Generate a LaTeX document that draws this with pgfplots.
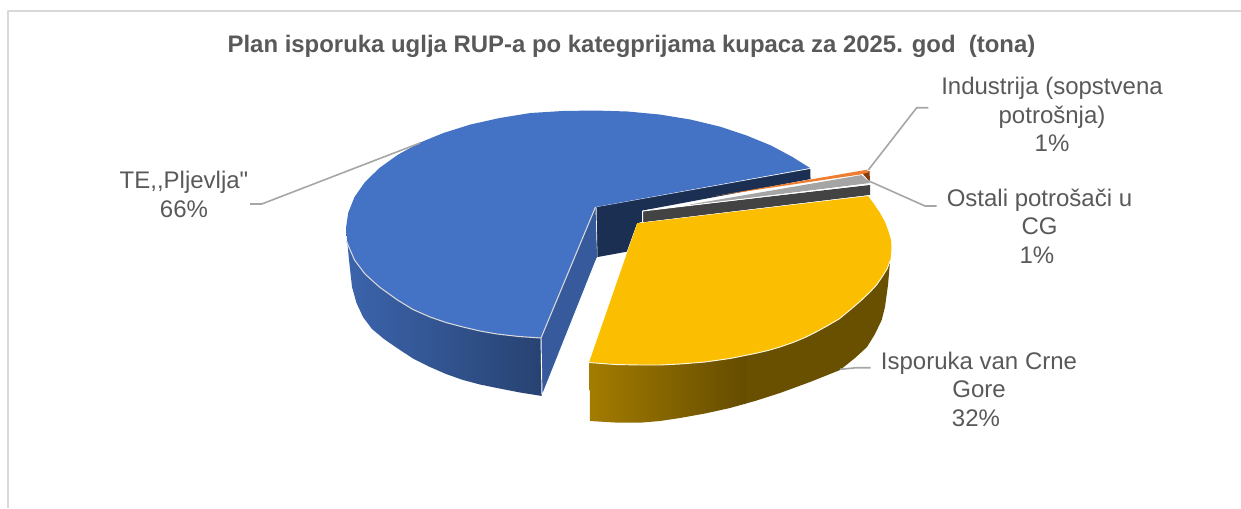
\documentclass[border=0pt]{standalone}
\usepackage{pgfplots}
\pgfplotsset{compat=1.18}
\usepackage{fontspec}
\setmainfont{Liberation Sans}[Ligatures=TeXOff]
\definecolor{lbl}{HTML}{595959}
\definecolor{leader}{HTML}{A6A6A6}
\definecolor{frame}{HTML}{D9D9D9}
\definecolor{blueTop}{HTML}{4472C4}
\definecolor{blueCut}{HTML}{365A9B}
\definecolor{blueBack}{HTML}{1A2F52}
\definecolor{yellowTop}{HTML}{FBBE00}
\definecolor{greyTop}{HTML}{A5A5A5}
\definecolor{greyFace}{HTML}{434343}
\definecolor{orangeTop}{HTML}{ED7D31}
\definecolor{orangeFace}{HTML}{843C0C}
\begin{document}
\begin{tikzpicture}
\useasboundingbox (0,0) rectangle (930.75pt,381pt);
\begin{axis}[
  at={(0,0)}, anchor=south west,
  hide axis, scale only axis, width=930.75pt, height=381pt,
  xmin=0, xmax=1241, ymin=0, ymax=508, y dir=reverse, clip=true,
  every axis plot/.append style={line join=round}]
% chart frame: left and top rules only
\addplot[frame, line width=1.5pt] coordinates {(8,508) (8,11) (1241,11)};
% TE Pljevlja: back face
\addplot[blueBack, fill=blueBack, draw=none] coordinates {(595.7,206.7) (810.7,168.3) (811,179) (642.6,210.5) (642.6,221.7) (637,223.3) (626.7,251.7) (596,257.3)};
\addplot[white, line width=0.7pt] coordinates {(595.7,206.7) (810.7,168.3) (811,179)};
\addplot[white, line width=0.7pt] coordinates {(596,207) (597,258)};
% TE Pljevlja: rim, shaded
\addplot[draw=none, left color=blueTop!88!black, middle color=blueTop!72!black, right color=blueTop!58!black] coordinates {(346,228) (349,260) (352,287) (356.5,303) (363,317) (372,329) (384,339) (397,348) (413,358.5) (430,367) (446,374) (463,380) (480,384.5) (497,388) (520,392.5) (542,396) (541,338)};
\addplot[blueCut, fill=blueCut, draw=none] coordinates {(541,338) (595.5,207) (597,258) (542,396)};
\addplot[white, line width=0.7pt] coordinates {(541,338) (542,396) (597,258)};
% TE Pljevlja: top surface
\addplot[blueTop, fill=blueTop, draw=none] coordinates {(595.5,207) (810,168) (792.5,157) (771,145.5) (746.6,135.5) (719.5,126.5) (690.3,119.5) (659.5,114.5) (627.6,111.5) (595,110.5) (562.4,111) (530.5,113) (499.7,118) (470.5,124.5) (443.4,133) (419,143) (397.5,155) (379.4,168) (365,182) (354.5,197) (348.2,212.8) (346,228) (348,245) (354.5,260) (365,274) (379.4,287) (397.5,300) (413,309.5) (430,317) (446,322.5) (463,327) (480,331) (497,334) (519,336.5) (541,338)};
\addplot[white!85!black, line width=0.8pt] coordinates {(346.5,241) (348,245) (354.5,260) (365,274) (379.4,287) (397.5,300) (413,309.5) (430,317) (446,322.5) (463,327) (480,331) (497,334) (519,336.5) (541,338) (595.5,207)};
% Industrija: sliver
\addplot[orangeFace, fill=orangeFace, draw=none] coordinates {(862,173) (869.5,171) (870,182)};
\addplot[orangeTop, fill=orangeTop, draw=none] coordinates {(715,196) (867,169.7) (868.5,172.5) (860,174.5)};
% Ostali: sliver
\addplot[greyFace, fill=greyFace, draw=none] coordinates {(642.7,211) (870,185) (870,195) (642.7,222.3)};
\addplot[greyTop, fill=greyTop, draw=none] coordinates {(690,204.5) (861.7,175) (870,183) (690,205.5)};
\addplot[white, line width=0.7pt] coordinates {(642.7,222.3) (642.7,211) (870,184)};
\addplot[white, line width=0.6pt] coordinates {(642.7,222.8) (870,195.5)};
% Isporuka van Crne Gore: rim, two shaded parts
\addplot[draw=none, fill=yellowTop!42!black] coordinates {(744,300) (890,261.7) (888,285) (885,306.7) (881.7,320) (875,334) (867,347) (855,358) (840,370) (810,382) (780,393) (755,401) (744,404)};
\addplot[draw=none, left color=yellowTop!65!black, right color=yellowTop!40!black] coordinates {(589.5,362.5) (746,356) (746,403.5) (730,408) (705,413.5) (680,418) (660,421) (640,422.7) (615,422.5) (590,421)};
% Isporuka van Crne Gore: top surface
\addplot[yellowTop, fill=yellowTop, draw=none] coordinates {(637.3,223.3) (868,196) (874,204) (880,213) (885,222) (888,230) (891,240) (891.5,248) (890.5,260) (887,269) (882,277) (876.5,285) (870,292) (860.5,301) (850,310) (839,319) (827,326) (816,332) (805,337.5) (793,342.5) (780,347) (768,350.5) (755,353.5) (730,358.5) (705,362) (680,364) (660,365) (640,365) (615,364.5) (589,362.5)};
\addplot[white!90!yellowTop, line width=0.7pt] coordinates {(589,362.5) (615,364.5) (640,365) (660,365) (680,364) (705,362) (730,358.5) (755,353.5) (768,350.5) (780,347) (793,342.5) (805,337.5) (816,332) (827,326) (839,319) (850,310) (860.5,301) (870,292) (876.5,285) (882,277) (887,269) (890.5,260)};
% leader lines
\addplot[leader, line width=1.2pt] coordinates {(250,204) (261.7,204) (420,143)};
\addplot[leader, line width=1.2pt] coordinates {(868.3,170) (916.7,107.7) (928.3,107.7)};
\addplot[leader, line width=1.2pt] coordinates {(866.7,180) (925,206) (936.7,206)};
\addplot[leader, line width=1.2pt] coordinates {(840,369.3) (856.7,367.7) (870.7,367.7)};
% title and data labels
\node[text=lbl, font=\fontsize{17.94pt}{21pt}\selectfont\bfseries, anchor=center] at (axis cs:631.5,46) {Plan isporuka uglja RUP-a po kategprijama kupaca za 2025. god\ \ (tona)};
\node[text=lbl, font=\fontsize{18pt}{21.4pt}\selectfont, align=center, anchor=center] at (axis cs:184,194.5) {TE,,Pljevlja"\\66\%};
\node[text=lbl, font=\fontsize{18pt}{21.4pt}\selectfont, align=center, anchor=center] at (axis cs:1052,114.5) {Industrija (sopstvena\\potrošnja)\\1\%};
\node[text=lbl, font=\fontsize{18pt}{21.4pt}\selectfont, align=center, anchor=center] at (axis cs:1039.5,226) {Ostali potrošači u\\CG\\\mbox{1\%\hspace{4pt}}};
\node[text=lbl, font=\fontsize{18pt}{21.4pt}\selectfont, align=center, anchor=center] at (axis cs:979,389) {Isporuka van Crne\\Gore\\\mbox{32\%\hspace{4.5pt}}};
\end{axis}
\end{tikzpicture}
\end{document}
